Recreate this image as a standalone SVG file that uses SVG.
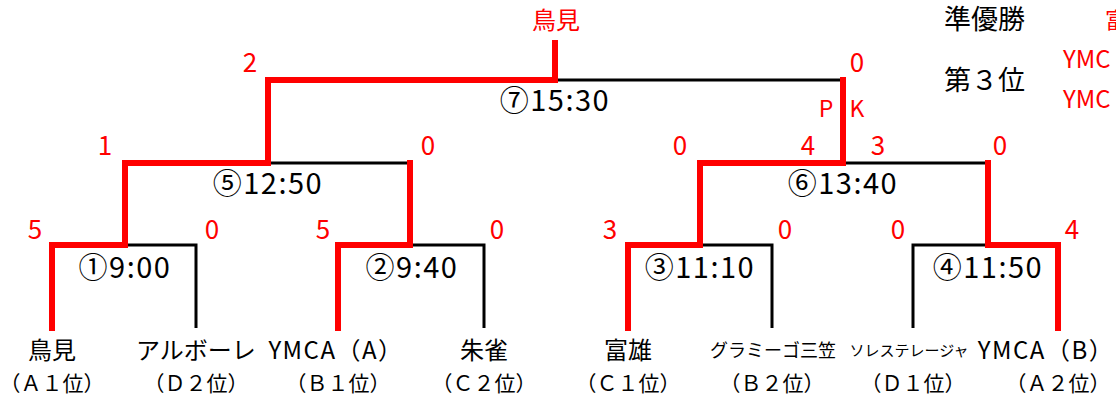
<svg xmlns="http://www.w3.org/2000/svg" width="1116" height="396" viewBox="0 0 1116 396">
<style>
text{font-family:"Noto Sans CJK JP","Noto Sans",sans-serif;}
.r{fill:none;stroke:#ff0000;stroke-width:6;stroke-linecap:square;}
.b{fill:none;stroke:#000;stroke-width:3;}
.sc{fill:#ff0000;font-size:26px;text-anchor:middle;}
.tm{fill:#000;font-size:29px;letter-spacing:1.5px;text-anchor:middle;}
.nm{fill:#000;font-size:24px;text-anchor:middle;}
.ym{letter-spacing:1.5px;}
.rk{fill:#000;font-size:21px;text-anchor:middle;}
.lb{fill:#000;font-size:27px;}
.rl{fill:#ff0000;font-size:24px;}
</style>
<rect width="1116" height="396" fill="#fff"/>
<g id="connectors">
<path class="b" d="M125,245 H196 V328"/>
<path class="b" d="M412,245 H484 V328"/>
<path class="b" d="M700,245 H772 V328"/>
<path class="b" d="M988,245 H913 V328"/>
<path class="b" d="M268,163 H410"/>
<path class="b" d="M843,163 H988"/>
<path class="b" d="M555,80 H843"/>
<path class="r" d="M52,328 V245 H125 V163 H268 V80 H555 V43"/>
<path class="r" d="M338,328 V245 H410 V163"/>
<path class="r" d="M628,328 V245 H700 V163 H843 V80"/>
<path class="r" d="M1058,328 V245 H988 V163"/>
</g>
<g id="final">
<text class="sc" x="556" y="29" style="font-size:24px">鳥見</text>
<text class="sc" x="250" y="72">2</text>
<text class="sc" x="857" y="72">0</text>
<text class="sc" x="826" y="117" style="font-size:23px">P</text>
<text class="sc" x="857" y="117" style="font-size:23px">K</text>
<text class="tm" x="555" y="111">⑦15:30</text>
</g>
<g id="semi1">
<text class="sc" x="105" y="155">1</text>
<text class="sc" x="428" y="155">0</text>
<text class="tm" x="268" y="194">⑤12:50</text>
</g>
<g id="semi2">
<text class="sc" x="680" y="155">0</text>
<text class="sc" x="808" y="155">4</text>
<text class="sc" x="878" y="155">3</text>
<text class="sc" x="1000" y="155">0</text>
<text class="tm" x="843" y="194">⑥13:40</text>
</g>
<g id="m1">
<text class="sc" x="35" y="239">5</text>
<text class="sc" x="212" y="239">0</text>
<text class="tm" x="125" y="278">①9:00</text>
</g>
<g id="m2">
<text class="sc" x="323" y="239">5</text>
<text class="sc" x="497" y="239">0</text>
<text class="tm" x="412" y="278">②9:40</text>
</g>
<g id="m3">
<text class="sc" x="610" y="239">3</text>
<text class="sc" x="785" y="239">0</text>
<text class="tm" x="700" y="278">③11:10</text>
</g>
<g id="m4">
<text class="sc" x="898" y="239">0</text>
<text class="sc" x="1072" y="239">4</text>
<text class="tm" x="988" y="278">④11:50</text>
</g>
<g id="team1"><text class="nm" x="52" y="359">鳥見</text><text class="rk" x="52" y="391">（Ａ１位）</text></g>
<g id="team2"><text class="nm" x="196" y="359">アルボーレ</text><text class="rk" x="196" y="391">（Ｄ２位）</text></g>
<g id="team3"><text class="nm ym" x="336" y="359">YMCA（A）</text><text class="rk" x="338" y="391">（Ｂ１位）</text></g>
<g id="team4"><text class="nm" x="484" y="359">朱雀</text><text class="rk" x="484" y="391">（Ｃ２位）</text></g>
<g id="team5"><text class="nm" x="628" y="359">富雄</text><text class="rk" x="628" y="391">（Ｃ１位）</text></g>
<g id="team6"><text class="nm" x="773" y="357" style="font-size:18px">グラミーゴ三笠</text><text class="rk" x="772" y="391">（Ｂ２位）</text></g>
<g id="team7"><text class="nm" x="909" y="356" style="font-size:15px">ソレステレージャ</text><text class="rk" x="913" y="391">（Ｄ１位）</text></g>
<g id="team8"><text class="nm ym" x="1046" y="359">YMCA（B）</text><text class="rk" x="1058" y="391">（Ａ２位）</text></g>
<g id="results">
<text class="lb" x="944" y="29">準優勝</text>
<text class="lb" x="944" y="90">第３位</text>
<text class="rl" x="1105" y="28" style="font-size:22px">富</text>
<text class="rl" x="1063" y="68">YMC</text>
<text class="rl" x="1063" y="108">YMC</text>
</g>
</svg>
